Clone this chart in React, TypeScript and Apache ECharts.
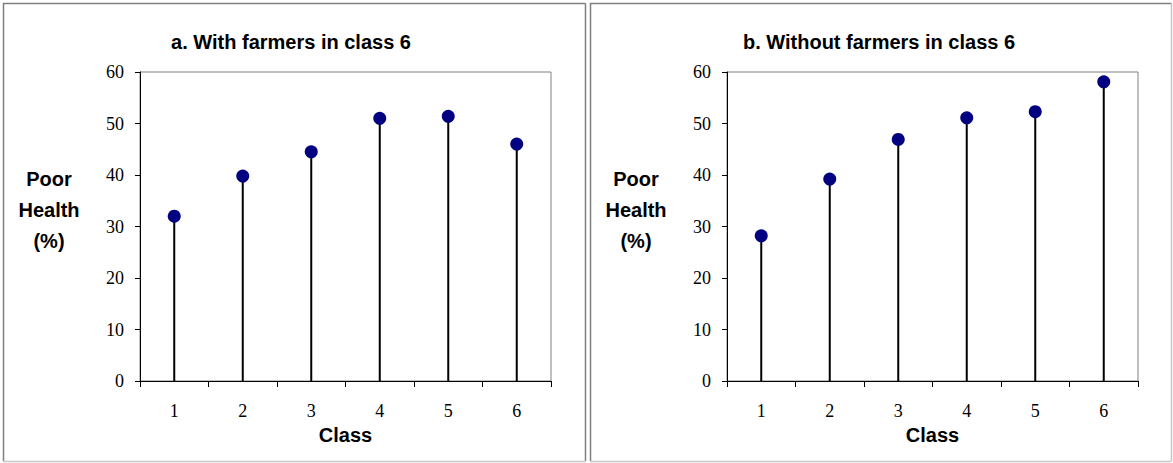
import { useEffect, useRef } from "react";
import * as echarts from "echarts";

// Social class categories on the x axis
const classes = ["1", "2", "3", "4", "5", "6"];
// Share of respondents reporting poor health (%)
const withFarmers = [32.0, 39.8, 44.5, 51.0, 51.4, 46.0];
const withoutFarmers = [28.2, 39.2, 46.9, 51.1, 52.3, 58.1];
// Value axis range
const yMin = 0;
const yMax = 60;
const yStep = 10;
const panelTitles = ["a. With farmers in class 6", "b. Without farmers in class 6"];
const yAxisTitle = "Poor\nHealth\n(%)";
const xAxisTitle = "Class";

const panels = [
  { title: panelTitles[0], values: withFarmers },
  { title: panelTitles[1], values: withoutFarmers },
];

const SANS = "'Liberation Sans', Arial, sans-serif";
const SERIF = "'Liberation Serif', 'Times New Roman', serif";

export default function App() {
  const ref = useRef<HTMLDivElement>(null);

  useEffect(() => {
    if (!ref.current) return;
    const chart = echarts.init(ref.current, undefined, { renderer: "svg" });

    const offsets = [0, 587];
    const grids: any[] = [];
    const xAxes: any[] = [];
    const yAxes: any[] = [];
    const series: any[] = [];
    const graphics: any[] = [];

    panels.forEach((p, i) => {
      const dx = offsets[i];
      grids.push({
        left: 140 + dx,
        top: 72,
        width: 411,
        height: 309,
        show: true,
        borderColor: "#808080",
        borderWidth: 1,
        backgroundColor: "transparent",
      });
      xAxes.push({
        type: "category",
        gridIndex: i,
        data: classes,
        boundaryGap: true,
        axisLine: { lineStyle: { color: "#000", width: 1 } },
        axisTick: { show: true, inside: false, length: 6, alignWithLabel: false, lineStyle: { color: "#000" } },
        axisLabel: { margin: 21, fontFamily: SERIF, fontSize: 18, color: "#000" },
        splitLine: { show: false },
        name: xAxisTitle,
        nameLocation: "middle",
        nameGap: 38,
        nameTextStyle: { fontFamily: SANS, fontWeight: "bold", fontSize: 20, color: "#000" },
      });
      yAxes.push({
        type: "value",
        gridIndex: i,
        min: yMin,
        max: yMax,
        interval: yStep,
        axisLine: { show: true, lineStyle: { color: "#000", width: 1 } },
        axisTick: { show: true, inside: false, length: 5, lineStyle: { color: "#000" } },
        axisLabel: { margin: 16, fontFamily: SERIF, fontSize: 18, color: "#000" },
        splitLine: { show: false },
      });
      // Drop lines from the axis up to each point
      series.push({
        type: "bar",
        xAxisIndex: i,
        yAxisIndex: i,
        data: p.values,
        barWidth: 2,
        itemStyle: { color: "#000" },
        silent: true,
        z: 2,
      });
      series.push({
        type: "scatter",
        xAxisIndex: i,
        yAxisIndex: i,
        data: p.values,
        symbol: "circle",
        symbolSize: 13,
        itemStyle: { color: "#000080", opacity: 1 },
        silent: true,
        z: 3,
      });

      // Panel frame
      const fx = 3 + dx;
      const fw = i === 0 ? 582 : 581;
      graphics.push({
        type: "polyline",
        shape: { points: [[fx + 0.5, 461], [fx + 0.5, 3.5], [fx + fw + 0.5, 3.5]] },
        style: { stroke: "#7f7f7f", lineWidth: 1.5, fill: "none" },
        silent: true,
      });
      graphics.push({
        type: "line",
        shape: { x1: fx + fw + 0.5, y1: 3.5, x2: fx + fw + 0.5, y2: 461 },
        style: { stroke: i === 0 ? "#7f7f7f" : "#c8c8c8", lineWidth: 1.5 },
        silent: true,
      });
      graphics.push({
        type: "line",
        shape: { x1: fx, y1: 461.5, x2: fx + fw + 0.5, y2: 461.5 },
        style: { stroke: "#c8c8c8", lineWidth: 1.5 },
        silent: true,
      });
      // Panel title
      graphics.push({
        type: "text",
        x: (i === 0 ? 291 : 879),
        y: 42,
        style: {
          text: p.title,
          fontFamily: SANS,
          fontWeight: "bold",
          fontSize: 20,
          fill: "#000",
          align: "center",
          verticalAlign: "middle",
        },
        silent: true,
      });
      // Value axis title
      graphics.push({
        type: "text",
        x: 49 + dx,
        y: 210,
        style: {
          text: yAxisTitle,
          fontFamily: SANS,
          fontWeight: "bold",
          fontSize: 20,
          lineHeight: 31,
          fill: "#000",
          align: "center",
          verticalAlign: "middle",
        },
        silent: true,
      });
    });

    chart.setOption({
      animation: false,
      backgroundColor: "#fff",
      grid: grids,
      xAxis: xAxes,
      yAxis: yAxes,
      series,
      graphic: graphics,
    });

    return () => chart.dispose();
  }, []);

  return (
    <div
      ref={ref}
      style={{ position: "absolute", left: 0, top: 0, width: 1173, height: 463 }}
    />
  );
}
